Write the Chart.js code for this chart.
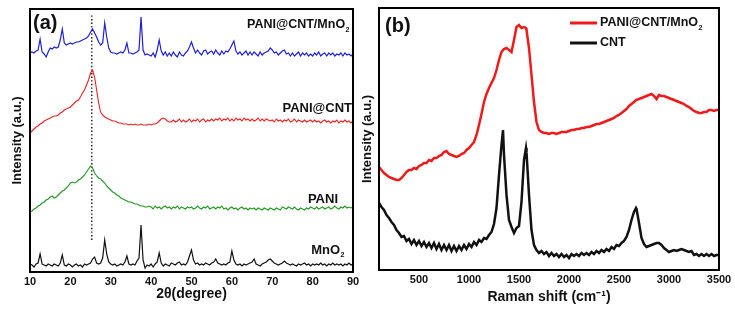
<!DOCTYPE html>
<html><head><meta charset="utf-8">
<script src="https://cdn.jsdelivr.net/npm/chart.js@4.4.1/dist/chart.umd.min.js"></script>
<style>
html,body{margin:0;padding:0;background:#fff;}
#wrap{position:relative;width:735px;height:311px;overflow:hidden;background:#fff;}
#ca{position:absolute;left:0;top:0;}
#cb{position:absolute;left:355px;top:0;}
</style></head><body>
<div id="wrap"><canvas id="ca" width="365" height="311"></canvas><canvas id="cb" width="380" height="311"></canvas></div>
<script>
// ---------- Panel (a): XRD ----------
const twoTheta = [
10,10.5,11,11.5,12,12.5,13,13.5,14,14.5,
15,15.5,16,16.5,17,17.5,18,18.5,19,19.5,
20,20.5,21,21.5,22,22.5,23,23.5,24,24.5,
25,25.5,26,26.5,27,27.5,28,28.5,29,29.5,
30,30.5,31,31.5,32,32.5,33,33.5,34,34.5,
35,35.5,36,36.5,37,37.5,38,38.5,39,39.5,
40,40.5,41,41.5,42,42.5,43,43.5,44,44.5,
45,45.5,46,46.5,47,47.5,48,48.5,49,49.5,
50,50.5,51,51.5,52,52.5,53,53.5,54,54.5,
55,55.5,56,56.5,57,57.5,58,58.5,59,59.5,
60,60.5,61,61.5,62,62.5,63,63.5,64,64.5,
65,65.5,66,66.5,67,67.5,68,68.5,69,69.5,
70,70.5,71,71.5,72,72.5,73,73.5,74,74.5,
75,75.5,76,76.5,77,77.5,78,78.5,79,79.5,
80,80.5,81,81.5,82,82.5,83,83.5,84,84.5,
85,85.5,86,86.5,87,87.5,88,88.5,89,89.5,
90];
const xrdMnO2 = [
8,7,5,8,9,18,8,7,6,8,
7,6,8,7,6,9,17,7,6,8,
7,5,7,8,6,7,5,8,7,8,
9,13,15,9,8,9,14,32,18,10,
8,7,8,6,7,8,7,10,16,8,
7,8,7,11,14,47,12,4,7,6,
8,5,8,10,19,9,6,8,7,6,
9,8,7,9,10,7,8,7,10,16,
22,12,8,9,7,8,7,9,8,7,
9,10,13,9,8,7,8,7,9,10,
21,12,8,7,8,6,8,7,8,9,
10,13,8,7,6,8,9,10,12,13,
11,9,8,7,8,9,11,9,8,7,
8,7,6,8,7,8,9,7,8,6,
8,7,8,7,9,7,8,6,8,7,
9,7,8,7,8,6,8,7,9,7,
8];
const xrdPANI = [
60,61,63,64,66,67,69,70,72,73,
75,76,74,75,77,79,81,82,84,86,
89,90,89,90,92,93,95,97,100,103,
106,104,99,96,94,93,91,89,86,84,
82,80,79,77,76,74,73,72,71,70,
70,69,68,68,67,66,66,65,65,66,
65,63,66,64,65,63,65,66,64,65,
63,65,64,66,63,65,64,63,65,64,
65,63,64,66,64,63,65,64,66,63,
64,65,63,65,64,66,63,64,62,64,
65,63,64,62,64,65,63,64,62,64,
63,64,62,64,63,62,64,63,62,64,
63,62,64,63,62,65,64,63,65,64,
63,65,63,62,64,63,62,64,63,65,
64,63,65,63,64,65,63,64,65,63,
64,66,64,63,65,64,66,64,65,64,
65];
const xrdPANICNT = [
139,141,143,145,146,148,149,151,152,153,
154,155,156,156,157,159,160,162,163,164,
165,167,169,171,172,175,179,182,187,192,
199,202,195,182,169,160,157,155,154,153,
152,151,151,150,149,149,148,148,148,147,
148,147,148,147,147,148,147,147,147,148,
147,148,148,149,151,153,154,153,151,150,
150,152,150,151,153,150,152,150,151,153,
150,152,151,153,150,152,153,150,152,151,
153,151,153,152,154,151,153,152,154,151,
153,151,154,152,153,151,154,152,153,151,
153,151,152,154,151,153,151,153,152,151,
152,150,153,151,152,150,152,151,153,150,
151,153,150,152,151,150,152,150,151,152,
150,152,150,151,149,151,152,150,151,149,
151,150,152,149,151,150,152,150,151,149,
151];
const xrdComposite = [
219,220,219,221,222,233,220,218,215,220,
224,223,225,224,225,232,243,229,227,228,
229,228,229,230,230,231,232,233,234,236,
240,243,239,235,230,227,229,249,235,224,
220,219,219,218,219,220,219,222,229,219,
219,218,219,220,222,255,222,217,218,217,
216,219,215,222,232,221,217,220,216,219,
216,220,217,215,220,217,216,219,221,225,
230,224,219,222,219,217,221,222,218,220,
221,218,222,219,217,221,218,221,220,223,
227,231,221,218,220,217,219,221,217,220,
217,220,218,216,220,217,219,220,221,224,
222,219,220,217,219,221,222,218,219,216,
219,216,218,220,216,219,217,219,216,218,
216,219,217,220,216,218,219,216,219,217,
219,216,218,217,219,216,219,217,218,216,
218];
const twoThetaTicks = [10,20,30,40,50,60,70,80,90];
const xrdNames = ['PANI@CNT/MnO₂','PANI@CNT','PANI','MnO₂'];
const refAngle = [25.3, 25.3];
const refLine = [32, 257];

// ---------- Panel (b): Raman ----------
const ramanShift = [
100,125,150,175,200,225,250,275,300,325,
350,375,400,425,450,475,500,525,550,575,
600,625,650,675,700,725,750,775,800,825,
850,875,900,925,950,975,1000,1025,1050,1075,
1100,1125,1150,1175,1200,1225,1250,1275,1300,1325,
1340,1350,1375,1400,1425,1450,1475,1500,1525,1550,
1570,1575,1600,1625,1650,1675,1700,1725,1750,1775,
1800,1825,1850,1875,1900,1925,1950,1975,2000,2025,
2050,2075,2100,2125,2150,2175,2200,2225,2250,2275,
2300,2325,2350,2375,2400,2425,2450,2475,2500,2525,
2550,2575,2600,2625,2650,2670,2675,2700,2725,2750,
2775,2800,2825,2850,2875,2900,2925,2950,2975,3000,
3025,3050,3075,3100,3125,3150,3175,3200,3225,3250,
3275,3300,3325,3350,3375,3400,3425,3450,3475,3500];
const ramanComposite = [
103,100,97,95,93,92,91,90,90,92,
95,98,100,100,102,101,104,105,107,107,
110,109,112,112,114,115,118,119,116,115,
114,113,114,116,117,120,122,125,128,135,
145,156,168,176,182,187,192,200,210,218,
220,221,222,220,218,230,243,245,242,243,
242,240,222,195,168,148,140,138,137,137,
136,137,137,136,137,138,138,138,139,140,
140,141,141,142,142,143,143,144,145,146,
146,147,148,149,150,151,152,154,155,157,
159,161,164,166,168,170,170,171,172,173,
174,175,176,174,171,175,174,174,173,172,
171,170,169,168,167,166,164,163,161,159,
158,157,157,158,158,160,160,159,160,160];
const ramanCNT = [
67,63,60,55,52,48,45,40,37,33,
34,29,31,26,30,25,29,24,28,23,
27,22,27,21,26,20,25,20,25,19,
24,19,24,20,25,21,26,23,28,25,
30,28,32,31,35,38,46,62,95,125,
140,115,75,50,43,37,42,44,68,110,
122,118,75,40,25,20,17,19,16,18,
14,17,14,16,13,16,13,15,12,16,
14,16,14,17,15,17,15,18,16,19,
17,20,18,21,19,23,21,25,24,27,
29,33,40,50,58,62,61,47,32,26,
23,24,25,26,27,27,25,22,20,18,
19,20,19,20,21,20,19,18,19,15,
16,14,16,14,16,14,16,14,15,15];
const ramanTicks = [500,1000,1500,2000,2500,3000,3500];
const ramanNames = ['PANI@CNT/MnO₂','CNT'];

// ---------- helpers ----------
const FONT = '"Liberation Sans", Arial, Helvetica, sans-serif';
const pts = (xs, ys) => xs.map((x, i) => ({x, y: ys[i]}));

function drawSubText(ctx, label, x, y, size, align) {
  const parts = label.split('₂');
  const main = parts[0];
  const hasSub = parts.length > 1;
  ctx.font = `bold ${size}px ${FONT}`;
  const w = ctx.measureText(main).width;
  const subSize = Math.round(size * 0.55);
  ctx.font = `bold ${subSize}px ${FONT}`;
  const ws = hasSub ? ctx.measureText('2').width + 1 : 0;
  const x0 = align === 'right' ? x - w - ws : x;
  ctx.textAlign = 'left';
  ctx.textBaseline = 'middle';
  ctx.font = `bold ${size}px ${FONT}`;
  ctx.fillText(main, x0, y);
  if (hasSub) {
    ctx.font = `bold ${subSize}px ${FONT}`;
    ctx.fillText('2', x0 + w + 0.5, y + size * 0.38);
  }
}

const framePlugin = {
  id: 'frame',
  afterDatasetsDraw(chart, args, opts) {
    const {ctx, chartArea: a} = chart;
    ctx.save();
    ctx.strokeStyle = '#000';
    ctx.lineWidth = 2;
    ctx.strokeRect(a.left, a.top, a.right - a.left, a.bottom - a.top);
    ctx.fillStyle = '#111';
    ctx.textAlign = 'left';
    ctx.textBaseline = 'middle';
    ctx.font = `bold 20px ${FONT}`;
    ctx.fillText(opts.panel, opts.panelX, opts.panelY);
    ctx.restore();
  }
};

function baseScales(xmin, xmax, tickVals, xTitle, xTitlePad, yMax, yTitlePad, yWidth, xHeight) {
  return {
    x: {
      type: 'linear', min: xmin, max: xmax,
      afterBuildTicks: s => { s.ticks = tickVals.map(v => ({value: v})); },
      afterFit: s => { s.height = xHeight; },
      grid: {display: false, drawTicks: false},
      border: {display: false},
      ticks: {color: '#111', font: {family: FONT, size: 11, weight: 'bold'}, padding: 3, maxRotation: 0,
        callback: v => String(v)},
      title: {display: true, text: xTitle, color: '#111', font: {family: FONT, size: 14, weight: 'bold'}, padding: {top: 0, bottom: xTitlePad}}
    },
    y: {
      type: 'linear', min: 0, max: yMax,
      afterFit: s => { s.width = yWidth; },
      grid: {display: false, drawTicks: false},
      border: {display: false},
      ticks: {display: false},
      title: {display: true, text: 'Intensity (a.u.)', color: '#111', font: {family: FONT, size: 13, weight: 'bold'}, padding: {top: yTitlePad, bottom: 0}}
    }
  };
}

const common = {
  responsive: false, animation: false, devicePixelRatio: 1,
  elements: {point: {radius: 0}, line: {tension: 0}},
};

// ---------- Chart (a) ----------
const labelsA = {
  id: 'labelsA',
  afterDatasetsDraw(chart) {
    const {ctx, chartArea: a} = chart;
    ctx.save();
    ctx.fillStyle = '#111';
    drawSubText(ctx, xrdNames[0], a.right - 3, 25, 12.5, 'right');
    drawSubText(ctx, xrdNames[1], a.right - 1, 108, 13, 'right');
    drawSubText(ctx, xrdNames[2], a.right - 15, 199, 13, 'right');
    drawSubText(ctx, xrdNames[3], a.right - 8, 250, 13, 'right');
    ctx.restore();
  }
};

new Chart(document.getElementById('ca'), {
  type: 'scatter',
  data: {
    datasets: [
      {data: pts(twoTheta, xrdComposite), showLine: true, borderColor: '#1f1fd8', borderWidth: 1.2},
      {data: pts(twoTheta, xrdPANICNT), showLine: true, borderColor: '#ef2020', borderWidth: 1.1},
      {data: pts(twoTheta, xrdPANI), showLine: true, borderColor: '#1f9a1f', borderWidth: 1.1},
      {data: pts(twoTheta, xrdMnO2), showLine: true, borderColor: '#111', borderWidth: 1.2},
      {data: pts(refAngle, refLine), showLine: true, borderColor: '#222', borderWidth: 1.5, borderDash: [1.4, 2.2]}
    ]
  },
  options: Object.assign({}, common, {
    layout: {padding: {left: 0, right: 12, top: 9, bottom: 0}},
    scales: baseScales(10, 90, twoThetaTicks, '2θ(degree)', 8, 263, 10, 30, 39),
    plugins: {legend: {display: false}, tooltip: {enabled: false},
      frame: {panel: '(a)', panelX: 33, panelY: 23}}
  }),
  plugins: [framePlugin, labelsA]
});

// ---------- Chart (b) ----------
const legendB = {
  id: 'legendB',
  afterDatasetsDraw(chart) {
    const {ctx} = chart;
    const colors = ['#ef1a1a', '#111'];
    const ys = [23, 43];
    ctx.save();
    for (let i = 0; i < ramanNames.length; i++) {
      ctx.strokeStyle = colors[i];
      ctx.lineWidth = 3;
      ctx.beginPath();
      ctx.moveTo(215, ys[i]);
      ctx.lineTo(242, ys[i]);
      ctx.stroke();
      ctx.fillStyle = '#111';
      drawSubText(ctx, ramanNames[i], 245, ys[i], 12.5, 'left');
    }
    ctx.restore();
  }
};

new Chart(document.getElementById('cb'), {
  type: 'scatter',
  data: {
    datasets: [
      {data: pts(ramanShift, ramanComposite), showLine: true, borderColor: '#ef1a1a', borderWidth: 2.5},
      {data: pts(ramanShift, ramanCNT), showLine: true, borderColor: '#111', borderWidth: 2.5}
    ]
  },
  options: Object.assign({}, common, {
    layout: {padding: {left: 0, right: 16, top: 8, bottom: 0}},
    scales: baseScales(100, 3500, ramanTicks, 'Raman shift (cm⁻¹)', 5, 262, 5, 24, 41),
    plugins: {legend: {display: false}, tooltip: {enabled: false},
      frame: {panel: '(b)', panelX: 30, panelY: 26}}
  }),
  plugins: [framePlugin, legendB]
});
</script>
</body></html>
